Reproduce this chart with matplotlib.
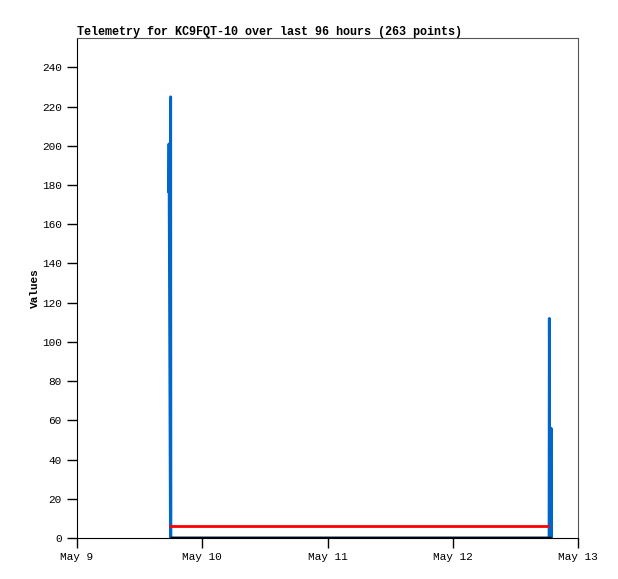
import matplotlib
matplotlib.use("Agg")
import matplotlib.pyplot as plt
from datetime import datetime, timedelta

# window start, everything is in hours from here
start = datetime(2024, 5, 9)
tick_hours = [0, 24, 48, 72, 96]
tick_labels = ["May 9", "May 10", "May 11", "May 12", "May 13"]

# blue channel (hours, value)
blue_h = [17.55, 17.62, 17.9, 17.95, 18.0, 90.45, 90.5, 90.62, 90.8, 90.85, 90.95]
blue_v = [176, 201, 0, 225, 0, 0, 112, 0, 0, 56, 0]

# red channel
red_h = [17.6, 90.5]
red_v = [6, 6]

# black channel
black_h = [17.9, 90.9]
black_v = [0, 0]

yticks = [0, 20, 40, 60, 80, 100, 120, 140, 160, 180, 200, 220, 240]

def to_dt(hours):
    return [start + timedelta(hours=h) for h in hours]

plt.rcParams['font.family'] = ['Liberation Mono', 'DejaVu Sans Mono']
plt.rcParams['font.size'] = 8

fig = plt.figure(figsize=(6.18, 5.79), dpi=100)
ax = fig.add_axes([77 / 618, 1 - 538 / 579, 501 / 618, 500 / 579])

ax.plot(to_dt(blue_h), blue_v, color='#0066cc', lw=2, solid_capstyle='butt')
ax.plot(to_dt(red_h), red_v, color='#ff0000', lw=2, solid_capstyle='butt')
ax.plot(to_dt(black_h), black_v, color='black', lw=2.5, solid_capstyle='butt')

ax.set_xlim(start, start + timedelta(hours=96))
ax.set_ylim(0, 255)
ax.set_xticks(to_dt(tick_hours))
ax.set_xticklabels(tick_labels)
ax.set_yticks(yticks)

ax.tick_params(axis='both', direction='out', length=7, width=1, colors='black', labelsize=8)
ax.tick_params(axis='x', pad=3)
ax.tick_params(axis='y', pad=4)

for s in ['top', 'right']:
    ax.spines[s].set_color('#555555')
for s in ['left', 'bottom']:
    ax.spines[s].set_color('black')

ax.set_ylabel('Values', fontweight='bold', labelpad=1)
ax.set_title('Telemetry for KC9FQT-10 over last 96 hours (263 points)',
             loc='left', fontweight='bold', fontsize=8.5, pad=2)

plt.savefig("out.png", dpi=100)
